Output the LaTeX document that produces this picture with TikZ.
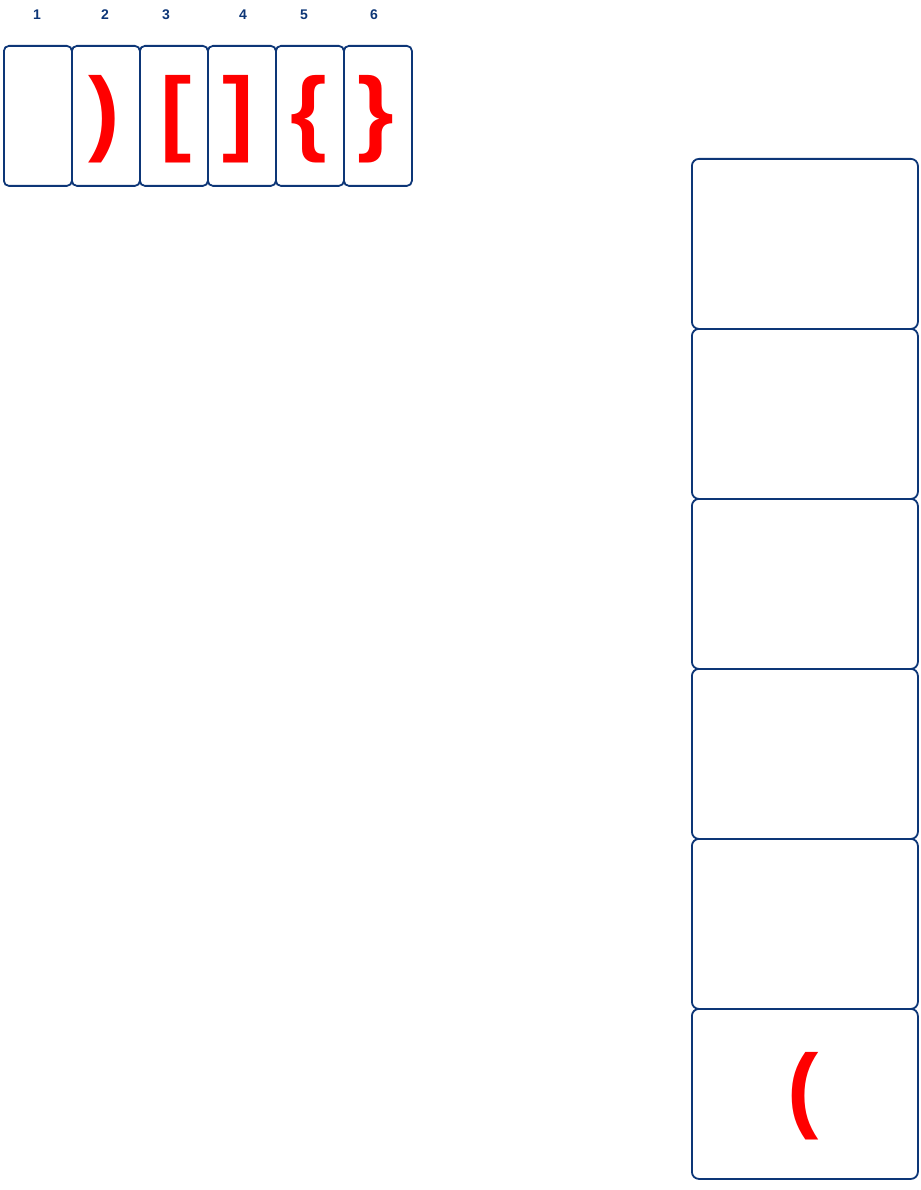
\documentclass[tikz,border=0pt]{standalone}
\usepackage{fontspec}
\setmainfont{Liberation Sans}
\definecolor{navy}{HTML}{0D3677}
\definecolor{brred}{HTML}{FF0000}
\begin{document}
\begin{tikzpicture}[x=1pt,y=-1pt,
  cell/.style={draw=navy,line width=1.8pt,rounded corners=5pt,minimum width=68pt,minimum height=140pt,inner sep=0pt,anchor=north west},
  slot/.style={draw=navy,line width=1.8pt,rounded corners=7pt,minimum width=226pt,minimum height=170pt,inner sep=0pt,anchor=north west},
  num/.style={text=navy,font=\bfseries\fontsize{14}{14}\selectfont,inner sep=0pt},
  sym/.style={text=brred,font=\bfseries\fontsize{94}{94}\selectfont,inner sep=0pt}]
\useasboundingbox (0,0) rectangle (920,1190);
% top row
\foreach \i/\x in {1/3,2/71,3/139,4/207,5/275,6/343}{
  \node[cell] (c\i) at (\x,45) {};
}
\foreach \i/\x in {1/37,2/105,3/166,4/243,5/304,6/374}{
  \node[num] (n\i) at (\x,15) {\i};
}
\node[sym] (s2) at (104,119) {)};
\node[sym] (s3) at (176,119) {[};
\node[sym] (s4) at (238,119) {]};
\node[sym] (s5) at (309,119) {\{};
\node[sym] (s6) at (376,119) {\}};
% right stack
\foreach \i/\y in {1/158,2/328,3/498,4/668,5/838,6/1008}{
  \node[slot] (r\i) at (691,\y) {};
}
\node[sym] (p) at (803,1096) {(};
\end{tikzpicture}
\end{document}
